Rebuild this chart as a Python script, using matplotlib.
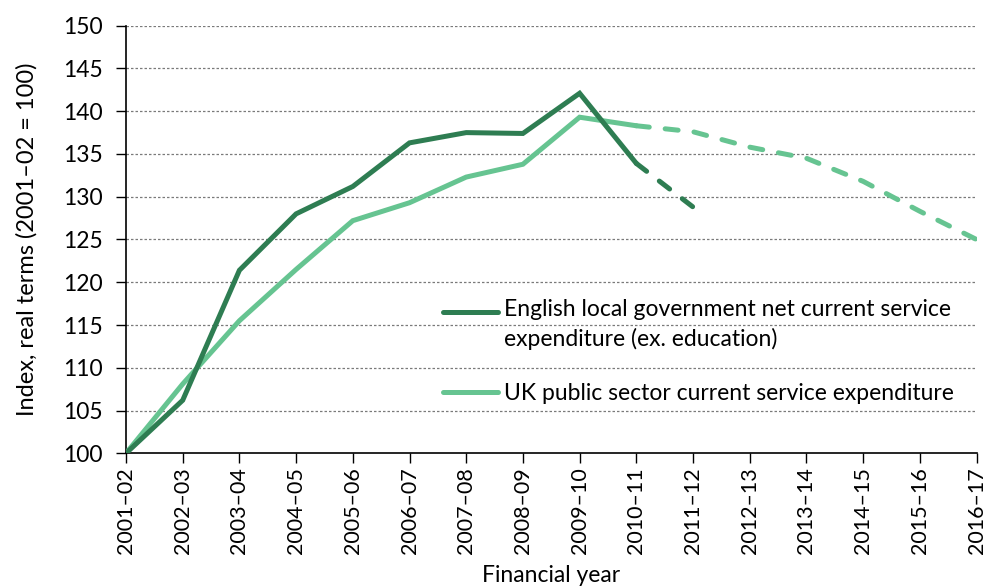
import numpy as np
import matplotlib
matplotlib.use("Agg")
import matplotlib.pyplot as plt
from matplotlib.legend_handler import HandlerLine2D

plt.rcParams['font.family'] = ['Lato', 'DejaVu Sans']

years = ['2001–02', '2002–03', '2003–04', '2004–05', '2005–06', '2006–07',
         '2007–08', '2008–09', '2009–10', '2010–11', '2011–12', '2012–13',
         '2013–14', '2014–15', '2015–16', '2016–17']
# English local government net current service expenditure (ex. education)
local_gov = [100, 106.2, 121.4, 128.0, 131.2, 136.3, 137.5, 137.4, 142.1, 133.9, 128.8]
# UK public sector current service expenditure
uk_public = [100, 108.1, 115.5, 121.5, 127.2, 129.3, 132.3, 133.8, 139.3, 138.3,
             137.6, 135.8, 134.5, 131.8, 128.3, 125.0]
last_outturn = 9  # 2010-11: plans (dashed) after this point

dark = '#2E7D52'
light = '#66C491'


class HandlerRaised(HandlerLine2D):
    # puts the legend line level with the first line of a two-line label
    def __init__(self, raise_by, **kw):
        super().__init__(**kw)
        self.raise_by = raise_by

    def create_artists(self, legend, orig_handle, xdescent, ydescent,
                       width, height, fontsize, trans):
        return super().create_artists(legend, orig_handle, xdescent,
                                      ydescent - 2 * self.raise_by, width,
                                      height, fontsize, trans)


fig = plt.figure(figsize=(9.89, 5.87), dpi=100)
ax = fig.add_axes([0.1274, 0.2278, 0.86, 0.7284])

x = np.arange(len(years))
xl = x[:len(local_gov)]

uk_line, = ax.plot(x[:last_outturn + 1], uk_public[:last_outturn + 1], color=light, lw=3.6,
                   solid_capstyle='round', solid_joinstyle='miter', zorder=3)
ax.plot(x[last_outturn:], uk_public[last_outturn:], color=light, lw=3.6,
        dashes=(2.6, 3.2), dash_capstyle='round', zorder=3)
lg_line, = ax.plot(xl[:last_outturn + 1], local_gov[:last_outturn + 1], color=dark, lw=3.6,
                   solid_capstyle='round', solid_joinstyle='miter', zorder=4)
ax.plot(xl[last_outturn:], local_gov[last_outturn:], color=dark, lw=3.6,
        dashes=(2.6, 3.2), dash_capstyle='round', zorder=4)

ax.set_xlim(0, len(years) - 1)
ax.set_ylim(100, 150)
ax.set_yticks(np.arange(100, 151, 5))
ax.set_xticks(x)
ax.set_xticklabels(years, rotation=90, fontsize=15.5)
ax.tick_params(axis='y', labelsize=16.5, length=7, width=1, pad=10)
ax.tick_params(axis='x', length=7, width=1, pad=3)

for v in np.arange(105, 151, 5):
    ax.axhline(v, color='#7a7a7a', lw=0.9, linestyle=(0, (2, 1.6)), zorder=1)

for s in ['top', 'right']:
    ax.spines[s].set_visible(False)
ax.spines['left'].set_linewidth(1.2)
ax.spines['bottom'].set_linewidth(1.2)

ax.set_xlabel('Financial year', fontsize=16.5, labelpad=8)
ax.set_ylabel('Index, real terms (2001–02 = 100)', fontsize=17, labelpad=18)

leg = ax.legend([lg_line, uk_line],
                ['English local government net current service\nexpenditure (ex. education)',
                 'UK public sector current service expenditure'],
                loc='upper left', bbox_to_anchor=(0.349, 0.41), frameon=False,
                fontsize=16.5, handlelength=2.4, handletextpad=0.25, labelspacing=1.45,
                handler_map={lg_line: HandlerRaised(9.5)})
for t in leg.get_texts():
    t.set_linespacing(1.45)

fig.savefig('out.png', dpi=100)
